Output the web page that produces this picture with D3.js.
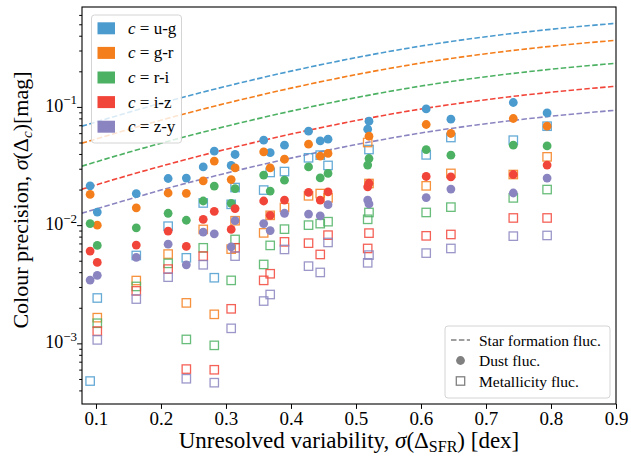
<!DOCTYPE html>
<html>
<head>
<meta charset="utf-8">
<script src="https://cdn.jsdelivr.net/npm/d3@7"></script>
<style>
  body { margin: 0; background: #fff; }
  svg { display: block; }
  text { font-family: "Liberation Serif", "DejaVu Serif", serif; fill: #000; }
</style>
</head>
<body>
<div id="chart"></div>
<script>
// colours and their labels
var colourNames = ["u-g", "g-r", "r-i", "i-z", "z-y"];
var colourFills = ["#4b9bcf", "#f47e1c", "#4db163", "#f2453a", "#8a85c0"];

// unresolved variability of each run
var runX = [0.091, 0.102, 0.162, 0.211, 0.239, 0.265, 0.282, 0.308, 0.314, 0.358, 0.368,
            0.390, 0.427, 0.445, 0.457, 0.518, 0.520, 0.608, 0.646, 0.742, 0.794];

// dust fluctuations (circles), one array per colour
var dustUG = [0.0215, 0.0129, 0.0185, 0.0248, 0.0250, 0.0311, 0.0422, 0.0320, 0.0396, 0.0523, 0.0410,
              0.0475, 0.0623, 0.0516, 0.0533, 0.0648, 0.0757, 0.0962, 0.0787, 0.109, 0.0890];
var dustGR = [0.0182, 0.0100, 0.0140, 0.0187, 0.0186, 0.0237, 0.0348, 0.0243, 0.0305, 0.0417, 0.0305,
              0.0361, 0.0484, 0.0383, 0.0404, null, 0.0565, 0.0710, 0.0596, 0.0798, 0.0687];
var dustRI = [0.0103, 0.00674, 0.00949, 0.0126, 0.0110, 0.0160, 0.0214, 0.0153, 0.0204, 0.0265, 0.0194,
              0.0240, 0.0311, 0.0251, 0.0274, 0.0322, 0.0366, 0.0436, 0.0391, 0.0475, 0.0468];
var dustIZ = [0.00603, 0.00484, 0.00678, 0.0089, 0.00661, 0.0112, 0.0131, 0.0092, 0.0138, 0.0160, 0.0121,
              0.0163, 0.0189, 0.0163, 0.0191, 0.0211, 0.0226, 0.0258, 0.0256, 0.0268, 0.0322];
var dustZY = [0.00343, 0.00376, 0.00533, 0.0069, 0.00462, 0.00873, 0.00844, 0.00656, 0.0109, 0.0103, 0.0090,
              0.0126, 0.0124, 0.0120, 0.0149, 0.0163, 0.0151, 0.0171, 0.0202, 0.0187, 0.0250];

// metallicity fluctuations (open squares)
var metUG = [0.00048, 0.00242, 0.00554, 0.0098, 0.00529, 0.0154, 0.00359, 0.0150, 0.0208, 0.0198, 0.0279,
             0.0284, 0.0371, 0.0391, 0.0320, null, 0.0436, 0.0393, 0.0551, 0.0523, 0.0687];
var metGR = [null, 0.00165, 0.0034, 0.00569, 0.0022, 0.0092, 0.00176, 0.00627, 0.0109, 0.0086, 0.0121,
             0.0141, 0.0177, 0.0185, 0.0170, 0.0500, 0.0225, 0.0215, 0.0274, 0.0268, 0.0378];
var metRI = [null, 0.00148, 0.00303, 0.00475, 0.00108, 0.00643, 0.000962, 0.00341, 0.00757, 0.00465, 0.00674,
             0.00925, 0.0100, 0.0103, 0.0107, 0.0112, 0.0128, 0.0128, 0.0142, 0.0170, 0.0200];
var metIZ = [null, 0.00127, 0.00278, 0.00425, 0.000606, 0.00547, 0.000598, 0.00196, 0.00643, 0.00341, 0.00388,
             0.00722, 0.00704, 0.00565, 0.00823, 0.00635, 0.00856, 0.00812, 0.00834, 0.0115, 0.0115];
var metZY = [null, 0.00107, 0.00237, 0.00363, 0.000502, 0.00462, 0.000465, 0.00134, 0.00547, 0.00228, 0.00259,
             0.00623, 0.0045, 0.00398, 0.00714, 0.0048, 0.00558, 0.0058, 0.00635, 0.00807, 0.00818];

// star formation fluctuation curves (dashed)
var sfrX  = [0.078, 0.15, 0.2, 0.3, 0.4, 0.5, 0.6, 0.7, 0.8, 0.9];
var sfrUG = [0.0686, 0.0899, 0.1075, 0.1493, 0.2007, 0.2611, 0.3271, 0.3922, 0.4536, 0.5099];
var sfrGR = [0.0493, 0.0645, 0.0772, 0.1072, 0.1441, 0.1875, 0.2349, 0.2816, 0.3257, 0.3661];
var sfrRI = [0.0315, 0.0413, 0.0493, 0.0685, 0.0921, 0.1198, 0.1501, 0.1800, 0.2082, 0.2340];
var sfrIZ = [0.0201, 0.0264, 0.0315, 0.0438, 0.0589, 0.0766, 0.0960, 0.1151, 0.1331, 0.1496];
var sfrZY = [0.0126, 0.0165, 0.0198, 0.0275, 0.0369, 0.0480, 0.0602, 0.0721, 0.0834, 0.0938];

var xTicks = [0.1, 0.2, 0.3, 0.4, 0.5, 0.6, 0.7, 0.8, 0.9];
var yMajor = [1e-3, 1e-2, 1e-1];
var yExp = ["\u22123", "\u22122", "\u22121"];

var dust = [dustUG, dustGR, dustRI, dustIZ, dustZY];
var met = [metUG, metGR, metRI, metIZ, metZY];
var sfr = [sfrUG, sfrGR, sfrRI, sfrIZ, sfrZY];

// plot box (note: "top" is a reserved window property, so use pT etc.)
var W = 631, H = 460,
    pL = 82, pR = 616, pT = 7, pB = 404;

var svg = d3.select("#chart").append("svg")
    .attr("width", W).attr("height", H);

var x = d3.scaleLinear().domain([0.0785, 0.9]).range([pL, pR]);
var y = d3.scaleLog().domain([3.07e-4, 0.70]).range([pB, pT]);

svg.append("clipPath").attr("id", "clip")
  .append("rect").attr("x", pL).attr("y", pT)
  .attr("width", pR - pL).attr("height", pB - pT);

var plot = svg.append("g").attr("clip-path", "url(#clip)");

// dashed lines first
var line = d3.line()
    .x(function(d) { return x(d[0]); })
    .y(function(d) { return y(d[1]); })
    .curve(d3.curveMonotoneX);

sfr.forEach(function(arr, i) {
  plot.append("path")
    .attr("d", line(sfrX.map(function(v, j) { return [v, arr[j]]; })))
    .attr("fill", "none")
    .attr("stroke", colourFills[i])
    .attr("stroke-width", 1.6)
    .attr("stroke-dasharray", "5.5,2.4");
});

// points, colour by colour
var s = 8.4;
colourNames.forEach(function(name, i) {
  var dpts = runX.map(function(v, j) { return [v, dust[i][j]]; }).filter(function(d) { return d[1] != null; });
  var mpts = runX.map(function(v, j) { return [v, met[i][j]]; }).filter(function(d) { return d[1] != null; });
  plot.selectAll(".d" + i).data(dpts).enter().append("circle")
    .attr("cx", function(d) { return x(d[0]); })
    .attr("cy", function(d) { return y(d[1]); })
    .attr("r", 4.4)
    .attr("fill", colourFills[i]);
  plot.selectAll(".m" + i).data(mpts).enter().append("rect")
    .attr("x", function(d) { return x(d[0]) - s / 2; })
    .attr("y", function(d) { return y(d[1]) - s / 2; })
    .attr("width", s).attr("height", s)
    .attr("fill", "none")
    .attr("stroke", colourFills[i])
    .attr("stroke-opacity", 0.85)
    .attr("stroke-width", 1.3);
});

// axes
var xAxis = svg.append("g")
    .attr("transform", "translate(0," + pB + ")")
    .call(d3.axisBottom(x).tickValues(xTicks).tickSize(4.9).tickFormat(d3.format(".1f")));
xAxis.select(".domain").remove();
xAxis.attr("font-family", null);
xAxis.selectAll("text").attr("font-size", 19).attr("dy", "0.68em");

var yMinor = [];
[1e-4, 1e-3, 1e-2, 1e-1].forEach(function(dec) {
  for (var k = 2; k <= 9; k++) {
    var v = dec * k;
    if (v >= 3.07e-4 && v <= 0.70) yMinor.push(v);
  }
});

var yAxis = svg.append("g")
    .attr("transform", "translate(" + pL + ",0)")
    .call(d3.axisLeft(y).tickValues(yMajor).tickSize(4.9).tickFormat(""));
yAxis.select(".domain").remove();
var yAxisMinor = svg.append("g")
    .attr("transform", "translate(" + pL + ",0)")
    .call(d3.axisLeft(y).tickValues(yMinor).tickSize(2.8).tickFormat(""));
yAxisMinor.select(".domain").remove();

yMajor.forEach(function(v, i) {
  var t = svg.append("text")
    .attr("x", 77).attr("y", y(v) + 5)
    .attr("text-anchor", "end")
    .attr("font-size", 18);
  t.append("tspan").text("10");
  t.append("tspan").attr("font-size", 13).attr("dy", -7.5).text(yExp[i]);
});

// frame
svg.append("rect")
  .attr("x", pL).attr("y", pT)
  .attr("width", pR - pL).attr("height", pB - pT)
  .attr("fill", "none").attr("stroke", "#000").attr("stroke-width", 1.1);

// axis labels
var xl = svg.append("text")
  .attr("x", 349).attr("y", 448)
  .attr("text-anchor", "middle")
  .attr("font-size", 23);
xl.append("tspan").text("Unresolved variability, ");
xl.append("tspan").attr("font-style", "italic").text("\u03c3");
xl.append("tspan").text("(\u0394");
xl.append("tspan").attr("font-size", 16).attr("dy", 4).text("SFR");
xl.append("tspan").attr("dy", -4).text(") [dex]");

var yl = svg.append("text")
  .attr("transform", "translate(28,200) rotate(-90)")
  .attr("text-anchor", "middle")
  .attr("font-size", 22);
yl.append("tspan").text("Colour precision, ");
yl.append("tspan").attr("font-style", "italic").text("\u03c3");
yl.append("tspan").text("(\u0394");
yl.append("tspan").attr("font-size", 15).attr("font-style", "italic").attr("dy", 4).text("c");
yl.append("tspan").attr("dy", -4).text(")[mag]");

// colour legend, top left
var lg = svg.append("g");
lg.append("rect")
  .attr("x", 91.5).attr("y", 15).attr("width", 90).attr("height", 128).attr("rx", 3)
  .attr("fill", "#fff").attr("fill-opacity", 0.8)
  .attr("stroke", "#d4d4d4").attr("stroke-width", 1);
colourNames.forEach(function(name, i) {
  var cy = 28.3 + i * 24.6;
  lg.append("rect")
    .attr("x", 97.5).attr("y", cy - 6).attr("width", 17.5).attr("height", 12)
    .attr("fill", colourFills[i]);
  var t = lg.append("text").attr("x", 128).attr("y", cy + 5.5).attr("font-size", 17);
  t.append("tspan").attr("font-style", "italic").text("c");
  t.append("tspan").text(" = " + name);
});

// marker legend, bottom right
var grey = "#808080";
var lg2 = svg.append("g");
lg2.append("rect")
  .attr("x", 445).attr("y", 326).attr("width", 165).attr("height", 72).attr("rx", 3)
  .attr("fill", "#fff").attr("fill-opacity", 0.8)
  .attr("stroke", "#d4d4d4").attr("stroke-width", 1);
lg2.append("line")
  .attr("x1", 451).attr("x2", 470).attr("y1", 340).attr("y2", 340)
  .attr("stroke", grey).attr("stroke-width", 1.6).attr("stroke-dasharray", "5.5,2.4");
lg2.append("circle").attr("cx", 460.5).attr("cy", 360.5).attr("r", 4.4).attr("fill", grey);
lg2.append("rect").attr("x", 460.5 - s / 2).attr("y", 381 - s / 2).attr("width", s).attr("height", s)
  .attr("fill", "none").attr("stroke", grey).attr("stroke-width", 1.3);
["Star formation fluc.", "Dust fluc.", "Metallicity fluc."].forEach(function(txt, i) {
  lg2.append("text").attr("x", 479).attr("y", 345.5 + i * 20.5).attr("font-size", 15.5).text(txt);
});
</script>
</body>
</html>
